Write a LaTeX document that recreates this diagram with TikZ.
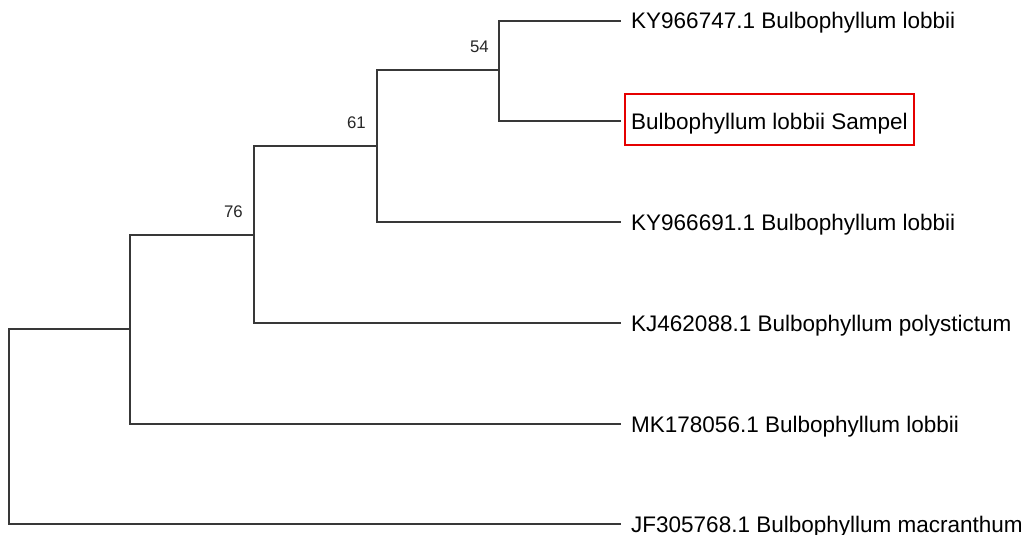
\documentclass[tikz,border=0pt]{standalone}
\usepackage{fontspec}
\setmainfont{Liberation Sans}
\begin{document}
\begin{tikzpicture}[x=1pt,y=-1pt,
  branch/.style={line width=1.6pt, draw=black!78, line cap=rect},
  leaflabel/.style={anchor=base west, inner sep=0pt, font=\fontsize{22.5}{26}\selectfont, text=black},
  bootlabel/.style={anchor=south east, inner sep=0pt, font=\fontsize{16.8}{19}\selectfont, text=black!85},
  redbox/.style={draw=red!90!black, line width=2.2pt}]
\useasboundingbox (0,0) rectangle (1030,535);
% internal nodes
\coordinate (R) at (9,426.5);
\coordinate (A) at (130,329);
\coordinate (B) at (254,235);
\coordinate (C) at (377,146);
\coordinate (D) at (499,70);
% leaf ends
\coordinate (L1) at (620,21);
\coordinate (L2) at (620,121);
\coordinate (L3) at (620,222);
\coordinate (L4) at (620,323);
\coordinate (L5) at (620,424);
\coordinate (L6) at (620,524);
% branches
\draw[branch] (R) |- (A);
\draw[branch] (R) |- (L6);
\draw[branch] (A) |- (B);
\draw[branch] (A) |- (L5);
\draw[branch] (B) |- (C);
\draw[branch] (B) |- (L4);
\draw[branch] (C) |- (D);
\draw[branch] (C) |- (L3);
\draw[branch] (D) |- (L1);
\draw[branch] (D) |- (L2);
% leaf labels
\node[leaflabel] (t1) at (631,29) {KY966747.1 Bulbophyllum lobbii};
\node[leaflabel] (t2) at (631,129) {Bulbophyllum lobbii Sampel};
\node[leaflabel] (t3) at (631,230) {KY966691.1 Bulbophyllum lobbii};
\node[leaflabel] (t4) at (631,331) {KJ462088.1 Bulbophyllum polystictum};
\node[leaflabel] (t5) at (631,432) {MK178056.1 Bulbophyllum lobbii};
\node[leaflabel] (t6) at (631,532) {JF305768.1 Bulbophyllum macranthum};
\draw[redbox] (625,94) rectangle (914,145);
% bootstrap values
\node[bootlabel] (b54) at (489,53) {54};
\node[bootlabel] (b61) at (366,129) {61};
\node[bootlabel] (b76) at (243,217.5) {76};
\end{tikzpicture}
\end{document}
